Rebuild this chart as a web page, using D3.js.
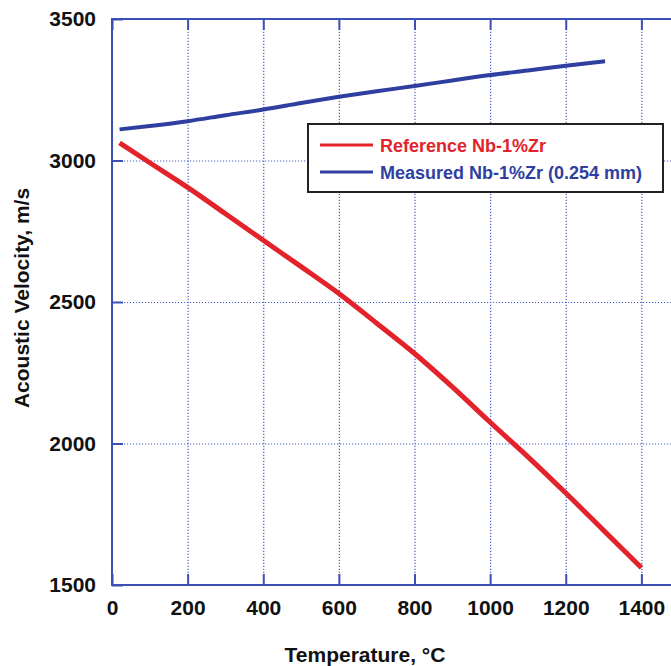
<!DOCTYPE html>
<html>
<head>
<meta charset="utf-8">
<script src="https://cdn.jsdelivr.net/npm/d3@7"></script>
<style>
  body { margin: 0; background: #fff; }
  svg { display: block; overflow: hidden; }
  text { font-family: "Liberation Sans", Arial, sans-serif; font-weight: bold; }
</style>
</head>
<body>
<div id="chart"></div>
<script>
// chart data
var refTemp = [20, 100, 200, 300, 400, 500, 600, 700, 800, 900, 1000, 1100, 1200, 1300, 1400];
var refVel  = [3062, 2992, 2905, 2812, 2718, 2625, 2530, 2425, 2318, 2200, 2075, 1953, 1825, 1693, 1561];

var measTemp = [20, 100, 200, 300, 400, 500, 600, 700, 800, 900, 1000, 1100, 1200, 1304];
var measVel  = [3110, 3122, 3139, 3160, 3180, 3203, 3225, 3245, 3263, 3283, 3302, 3318, 3335, 3351];

var xTicks = [0, 200, 400, 600, 800, 1000, 1200, 1400];
var yTicks = [1500, 2000, 2500, 3000, 3500];

var seriesNames = ["Reference Nb-1%Zr", "Measured Nb-1%Zr (0.254 mm)"];
var seriesColors = ["#e3232c", "#2f3f9f"];

// svg size
var svgWidth = 671;
var svgHeight = 666;

var margin = { top: 19, left: 112, bottom: 81 };
var plotRight = 717; // plot runs past the window edge

var svg = d3.select("#chart")
  .append("svg")
  .attr("width", svgWidth)
  .attr("height", svgHeight);

var x = d3.scaleLinear()
  .domain([0, 1600])
  .range([margin.left, plotRight]);

var y = d3.scaleLinear()
  .domain([1500, 3500])
  .range([svgHeight - margin.bottom, margin.top]);

var frameColor = "#3c4fb4";
var fmt = d3.format("d");

// dotted grid
svg.append("g")
  .attr("class", "grid")
  .attr("transform", `translate(0, ${y(1500)})`)
  .call(d3.axisBottom(x).tickValues(xTicks).tickSize(-(y(1500) - y(3500))).tickFormat(""))
  .call(g => g.select(".domain").remove());

svg.append("g")
  .attr("class", "grid")
  .attr("transform", `translate(${x(0)}, 0)`)
  .call(d3.axisLeft(y).tickValues(yTicks).tickSize(-(plotRight - x(0))).tickFormat(""))
  .call(g => g.select(".domain").remove());

svg.selectAll(".grid line")
  .attr("stroke", "#4d5fc4")
  .attr("stroke-width", 1.2)
  .attr("stroke-dasharray", "1.2,1.8");

// frame
svg.append("rect")
  .attr("x", x(0))
  .attr("y", y(3500))
  .attr("width", plotRight - x(0))
  .attr("height", y(1500) - y(3500))
  .attr("fill", "none")
  .attr("stroke", frameColor)
  .attr("stroke-width", 2);

// axes with inward ticks
var bottomAxis = svg.append("g")
  .attr("transform", `translate(0, ${y(1500)})`)
  .call(d3.axisBottom(x).tickValues(xTicks).tickSize(-11).tickPadding(15).tickFormat(fmt));

var topAxis = svg.append("g")
  .attr("transform", `translate(0, ${y(3500)})`)
  .call(d3.axisTop(x).tickValues(xTicks).tickSize(-11).tickFormat(""));

var leftAxis = svg.append("g")
  .attr("transform", `translate(${x(0)}, 0)`)
  .call(d3.axisLeft(y).tickValues(yTicks).tickSize(-11).tickPadding(16).tickFormat(fmt));

[bottomAxis, topAxis, leftAxis].forEach(function (g) {
  g.select(".domain").remove();
  g.selectAll("line").attr("stroke", frameColor).attr("stroke-width", 2);
  g.selectAll("text")
    .attr("fill", "#111")
    .style("font-size", "21px")
    .style("font-family", "'Liberation Sans', Arial, sans-serif")
    .style("font-weight", "bold");
});

// axis titles
svg.append("text")
  .attr("x", 365)
  .attr("y", 662)
  .attr("text-anchor", "middle")
  .style("font-size", "21px")
  .attr("fill", "#111")
  .text("Temperature, °C");

svg.append("text")
  .attr("transform", "translate(29, 298) rotate(-90)")
  .attr("text-anchor", "middle")
  .style("font-size", "21px")
  .attr("fill", "#111")
  .text("Acoustic Velocity, m/s");

// data lines
var line = d3.line()
  .x(d => x(d[0]))
  .y(d => y(d[1]))
  .curve(d3.curveMonotoneX);

var refData = refTemp.map((t, i) => [t, refVel[i]]);
var measData = measTemp.map((t, i) => [t, measVel[i]]);

svg.append("path")
  .datum(measData)
  .attr("d", line)
  .attr("fill", "none")
  .attr("stroke", seriesColors[1])
  .attr("stroke-width", 4);

svg.append("path")
  .datum(refData)
  .attr("d", line)
  .attr("fill", "none")
  .attr("stroke", seriesColors[0])
  .attr("stroke-width", 5);

// legend
var legend = svg.append("g");

legend.append("rect")
  .attr("x", 308)
  .attr("y", 124)
  .attr("width", 355)
  .attr("height", 68)
  .attr("fill", "#fff")
  .attr("stroke", "#222")
  .attr("stroke-width", 2);

seriesNames.forEach(function (name, i) {
  var ly = 145 + i * 27;
  legend.append("line")
    .attr("x1", 320)
    .attr("x2", 373)
    .attr("y1", ly)
    .attr("y2", ly)
    .attr("stroke", seriesColors[i])
    .attr("stroke-width", 3);
  legend.append("text")
    .attr("x", 380)
    .attr("y", ly + 6.5)
    .style("font-size", "18px")
    .attr("fill", seriesColors[i])
    .text(name);
});
</script>
</body>
</html>
